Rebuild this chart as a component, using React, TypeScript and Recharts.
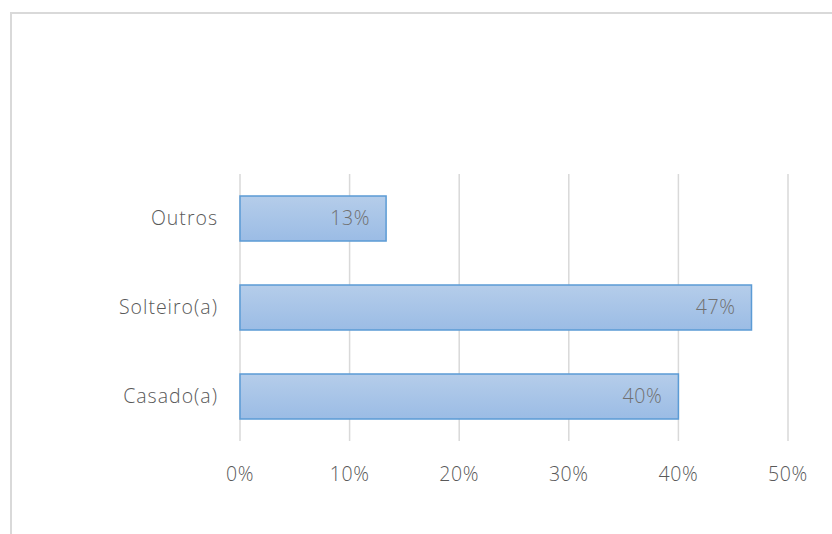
import React from 'react';
import { BarChart, Bar, XAxis, YAxis, CartesianGrid, LabelList } from 'recharts';

const categories = ['Outros', 'Solteiro(a)', 'Casado(a)'];
const values = [13.33, 46.67, 40];
const xTicks = [0, 10, 20, 30, 40, 50];

const data = categories.map((c, i) => ({ name: c, value: values[i] }));

const FONT = '"Open Sans", sans-serif';
const FS = 19.5;

export default function App() {
  return (
    <div style={{ position: 'absolute', left: 0, top: 0, width: 832, height: 534, background: '#fff', overflow: 'hidden' }}>
      <div style={{ position: 'absolute', left: 10, top: 12, width: 840, height: 540, borderLeft: '2px solid #d9d9d9', borderTop: '2px solid #d9d9d9' }} />
      <BarChart
        width={832}
        height={534}
        data={data}
        layout="vertical"
        margin={{ top: 174, right: 44, bottom: 53, left: 40 }}
        barCategoryGap={22}
        style={{ position: 'absolute', left: 0, top: 0 }}
      >
        <defs>
          <linearGradient id="barGrad" x1="0" y1="0" x2="0" y2="1">
            <stop offset="0%" stopColor="#b5cdea" />
            <stop offset="100%" stopColor="#9bbce5" />
          </linearGradient>
        </defs>
        <CartesianGrid horizontal={false} stroke="#d9d9d9" strokeWidth={1.5} />
        <XAxis
          type="number"
          domain={[0, 50]}
          ticks={xTicks}
          tickFormatter={(v) => `${v}%`}
          axisLine={false}
          tickLine={false}
          tickSize={0}
          tickMargin={26}
          height={40}
          interval={0}
          tick={{ fill: '#595959', fontSize: FS, fontFamily: FONT, fontWeight: 300, letterSpacing: 0.6 }}
        />
        <YAxis
          type="category"
          dataKey="name"
          width={200}
          axisLine={false}
          tickLine={false}
          tickSize={0}
          tickMargin={22}
          tick={{ fill: '#595959', fontSize: FS, fontFamily: FONT, fontWeight: 300, letterSpacing: 1 }}
        />
        <Bar dataKey="value" fill="url(#barGrad)" stroke="#5b9bd5" strokeWidth={1.5} isAnimationActive={false}>
          <LabelList
            dataKey="value"
            position="insideRight"
            offset={16}
            formatter={(v: number) => `${Math.round(v)}%`}
            style={{ fill: '#707070', fontSize: FS, fontFamily: FONT, fontWeight: 300, letterSpacing: 0.6 }}
          />
        </Bar>
      </BarChart>
    </div>
  );
}
